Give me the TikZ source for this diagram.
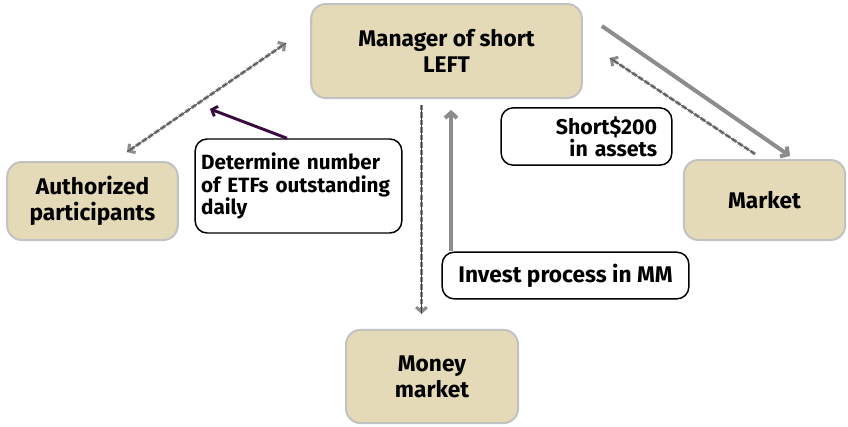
\documentclass[tikz,border=0pt]{standalone}
\usepackage{fontspec}
\setmainfont{Fira Sans}
\usepackage{xcolor}
\usepackage{tikz}
\usetikzlibrary{arrows.meta,positioning,calc}

\definecolor{boxfill}{HTML}{E4DAB7}
\definecolor{boxline}{HTML}{C2C2C2}
\definecolor{flowgray}{HTML}{8C8C8E}
\definecolor{notepurple}{HTML}{3A0B3F}

\tikzset{
    party/.style={draw=boxline, line width=1.5pt, fill=boxfill, rounded corners=11pt,
        align=center, font=\fontsize{17}{19.5}\selectfont\bfseries},
    note/.style={draw=black, line width=1.1pt, fill=white, rounded corners=9pt,
        font=\fontsize{15.5}{17}\selectfont\bfseries},
    cashflow/.style={draw=flowgray, line width=3pt, -{Straight Barb[length=4pt,width=9pt]}},
    infoflow/.style={draw=flowgray, line width=2.3pt, dash pattern=on 4pt off 1.6pt,
        postaction={draw=black!75, line width=0.5pt, solid, -}},
    tipgray/.style={-{Straight Barb[length=3.5pt,width=8pt]}},
    pointer/.style={draw=notepurple, line width=2.2pt, -{Straight Barb[length=3.5pt,width=8pt]}}
}

\begin{document}
\begin{tikzpicture}[x=0.75pt,y=-0.75pt]
    \useasboundingbox (0,0) rectangle (848,426);

    % Parties
    \node[party, minimum width=203pt, minimum height=70.5pt] (mgr) at (446.5,51) {Manager of short\\LEFT};
    \node[party, minimum width=128pt, minimum height=58.5pt] (ap) at (92.5,201) {Authorized\\participants};
    \node[party, minimum width=121pt, minimum height=60pt] (mkt) at (764.5,200) {Market};
    \node[party, minimum width=129pt, minimum height=70pt] (mm) at (432,376.5) {Money\\market};

    % Notes
    \node[note, minimum width=155pt, minimum height=70.5pt, text width=146pt, inner xsep=4.5pt, align=left] (det) at (298.5,186)
        {Determine number\\of ETFs outstanding\\daily};
    \node[note, minimum width=128pt, minimum height=43pt, text width=106pt, align=right,
        font=\fontsize{16}{16.5}\selectfont\bfseries] (short) at (586.5,136.5)
        {Short\$200\\in assets};
    \node[note, minimum width=185pt, minimum height=35pt, align=center,
        font=\fontsize{17}{19}\selectfont\bfseries] (inv) at (565.5,275.5)
        {Invest process in MM};

    % Flows
    \draw[infoflow, {Straight Barb[length=3.5pt,width=8pt]}-{Straight Barb[length=3.5pt,width=8pt]}]
        ($(ap.north)+(34.5,-9)$) -- ($(mgr.west)+(-24,-8)$);
    \draw[infoflow, tipgray] ($(mgr.south)+(-25,6)$) -- ($(mm.north)+(-10.5,-15)$);
    \draw[cashflow] (inv.north -| 451,0) -- ($(mgr.south)+(4.5,11)$);
    \draw[cashflow] ($(mgr.east)+(19,-25)$) -- ($(mkt.north)+(25.5,-3)$);
    \draw[infoflow, tipgray] ($(mkt.north)+(-9.5,-5)$) -- ($(mgr.east)+(27,7)$);

    % Pointer from note
    \coordinate (detmark) at (210,109);
    \draw[pointer] ($(det.north)+(-11.5,0)$) -- (detmark);
\end{tikzpicture}
\end{document}
